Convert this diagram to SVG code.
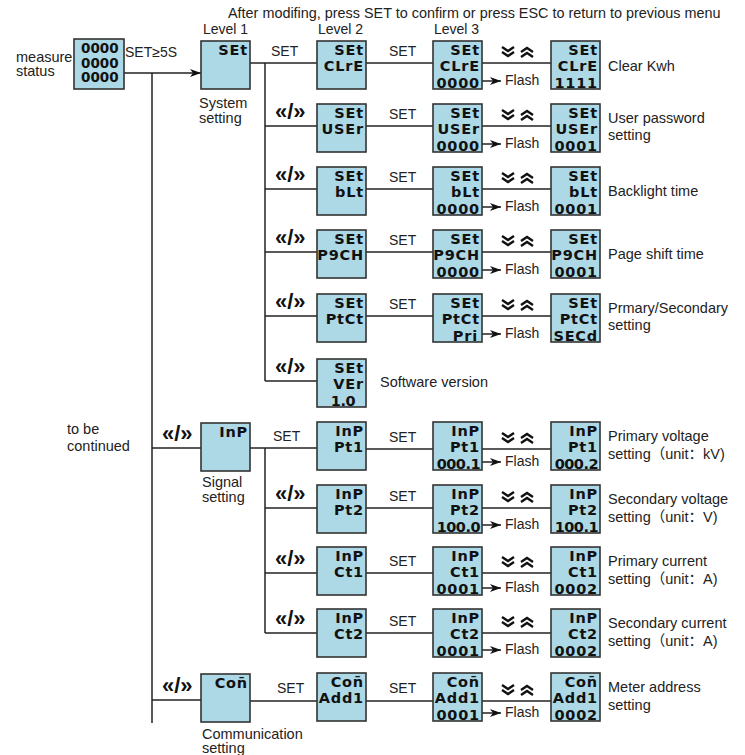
<svg xmlns="http://www.w3.org/2000/svg" width="745" height="755" viewBox="0 0 745 755">
<style>
text{font-family:"Liberation Sans","Noto Sans CJK SC",sans-serif;fill:#222}
.t{font-size:14px}
.top{font-size:14.4px}
.d{font-size:14.5px}
.nav{font-size:22px;font-weight:bold;fill:#111}
.box{fill:#add8e6;stroke:#333;stroke-width:1.6}
.lcd{font-family:"DejaVu Sans",sans-serif;font-weight:bold;font-size:14.5px;letter-spacing:0.8px;text-anchor:end;fill:#111}
.dot{letter-spacing:-0.5px}
.m{font-family:"DejaVu Sans",sans-serif;font-weight:bold;font-size:13.5px;fill:#111}
.ln{stroke:#222;stroke-width:1.5;fill:none}
.chev{stroke:#111;stroke-width:2.4;fill:none;stroke-linejoin:miter}
</style>
<defs>
<marker id="ah" markerUnits="userSpaceOnUse" markerWidth="12" markerHeight="8" refX="11" refY="4" orient="auto">
<path d="M0,0 L11,4 L0,8 L3,4 z" fill="#111"/>
</marker>
<g id="ud">
<path class="chev" d="M-25,-5 L-19,-1 L-13,-5 M-25,0 L-19,4 L-13,0"/>
<path class="chev" d="M-6,5 L0,1 L6,5 M-6,0 L0,-4 L6,0"/>
</g>
</defs>

<text class="top" x="228" y="18">After modifing, press SET to confirm or press ESC to return to previous menu</text>
<text class="t" x="203" y="34">Level 1</text>
<text class="t" x="318" y="34">Level 2</text>
<text class="t" x="434" y="34">Level 3</text>

<g id="connectors">
<line class="ln" x1="124" y1="73" x2="201" y2="73" marker-end="url(#ah)"/>
<line class="ln" x1="152" y1="73" x2="152" y2="723"/>
<line class="ln" x1="250" y1="63" x2="317" y2="63"/>
<line class="ln" x1="265" y1="63" x2="265" y2="381"/>
<line class="ln" x1="265" y1="126" x2="317" y2="126"/>
<line class="ln" x1="265" y1="189" x2="317" y2="189"/>
<line class="ln" x1="265" y1="252" x2="317" y2="252"/>
<line class="ln" x1="265" y1="316" x2="317" y2="316"/>
<line class="ln" x1="265" y1="381" x2="317" y2="381"/>
<line class="ln" x1="366" y1="63" x2="551" y2="63"/>
<line class="ln" x1="366" y1="126" x2="551" y2="126"/>
<line class="ln" x1="366" y1="189" x2="551" y2="189"/>
<line class="ln" x1="366" y1="252" x2="551" y2="252"/>
<line class="ln" x1="366" y1="316" x2="551" y2="316"/>
<line class="ln" x1="152" y1="448" x2="201" y2="448"/>
<line class="ln" x1="250" y1="448" x2="317" y2="448"/>
<line class="ln" x1="265" y1="448" x2="265" y2="633"/>
<line class="ln" x1="265" y1="508" x2="317" y2="508"/>
<line class="ln" x1="265" y1="573" x2="317" y2="573"/>
<line class="ln" x1="265" y1="633" x2="317" y2="633"/>
<line class="ln" x1="366" y1="449" x2="551" y2="449"/>
<line class="ln" x1="366" y1="508" x2="551" y2="508"/>
<line class="ln" x1="366" y1="573" x2="551" y2="573"/>
<line class="ln" x1="366" y1="633" x2="551" y2="633"/>
<line class="ln" x1="152" y1="700" x2="201" y2="700"/>
<line class="ln" x1="250" y1="701" x2="551" y2="701"/>
<line class="ln" x1="481" y1="81" x2="501" y2="81" marker-end="url(#ah)"/>
<line class="ln" x1="481" y1="144" x2="501" y2="144" marker-end="url(#ah)"/>
<line class="ln" x1="481" y1="207" x2="501" y2="207" marker-end="url(#ah)"/>
<line class="ln" x1="481" y1="270" x2="501" y2="270" marker-end="url(#ah)"/>
<line class="ln" x1="481" y1="334" x2="501" y2="334" marker-end="url(#ah)"/>
<line class="ln" x1="481" y1="462" x2="501" y2="462" marker-end="url(#ah)"/>
<line class="ln" x1="481" y1="525" x2="501" y2="525" marker-end="url(#ah)"/>
<line class="ln" x1="481" y1="588" x2="501" y2="588" marker-end="url(#ah)"/>
<line class="ln" x1="481" y1="650" x2="501" y2="650" marker-end="url(#ah)"/>
<line class="ln" x1="481" y1="713" x2="501" y2="713" marker-end="url(#ah)"/>
</g>

<g id="labels">
<text class="t" x="125" y="57">SET≥5S</text>
<text class="t" x="271" y="56">SET</text>
<text class="t" x="389" y="56">SET</text>
<text class="nav" x="275" y="119">«/»</text><text class="t" x="389" y="119">SET</text>
<text class="nav" x="275" y="182">«/»</text><text class="t" x="389" y="182">SET</text>
<text class="nav" x="275" y="245">«/»</text><text class="t" x="389" y="245">SET</text>
<text class="nav" x="275" y="309">«/»</text><text class="t" x="389" y="309">SET</text>
<text class="nav" x="275" y="374">«/»</text>
<text class="nav" x="162" y="441">«/»</text><text class="t" x="273" y="441">SET</text>
<text class="t" x="389" y="442">SET</text>
<text class="nav" x="275" y="501">«/»</text><text class="t" x="389" y="501">SET</text>
<text class="nav" x="275" y="566">«/»</text><text class="t" x="389" y="566">SET</text>
<text class="nav" x="275" y="626">«/»</text><text class="t" x="389" y="626">SET</text>
<text class="nav" x="162" y="693">«/»</text><text class="t" x="277" y="693">SET</text>
<text class="t" x="389" y="693">SET</text>
<use href="#ud" x="527" y="52"/>
<use href="#ud" x="527" y="115"/>
<use href="#ud" x="527" y="178"/>
<use href="#ud" x="527" y="241"/>
<use href="#ud" x="527" y="305"/>
<use href="#ud" x="527" y="438"/>
<use href="#ud" x="527" y="497"/>
<use href="#ud" x="527" y="562"/>
<use href="#ud" x="527" y="622"/>
<use href="#ud" x="527" y="690"/>
<text class="t" x="505" y="85">Flash</text>
<text class="t" x="505" y="148">Flash</text>
<text class="t" x="505" y="211">Flash</text>
<text class="t" x="505" y="274">Flash</text>
<text class="t" x="505" y="338">Flash</text>
<text class="t" x="505" y="466">Flash</text>
<text class="t" x="505" y="529">Flash</text>
<text class="t" x="505" y="592">Flash</text>
<text class="t" x="505" y="654">Flash</text>
<text class="t" x="505" y="717">Flash</text>
<text class="d" x="67" y="434">to be</text>
<text class="d" x="67" y="451">continued</text>
</g>

<g id="measure">
<text class="d"><tspan x="16" y="62">measure</tspan><tspan x="16" y="76">status</tspan></text>
<rect class="box" x="74" y="39" width="50" height="50"/>
<text class="m"><tspan x="81" y="53">0000</tspan><tspan x="81" y="67.5">0000</tspan><tspan x="81" y="82">0000</tspan></text>
</g>

<g id="sys-l1">
<rect class="box" x="201" y="41" width="49" height="48"/>
<text class="lcd" x="248" y="54.5">SEt</text>
<text class="d"><tspan x="199" y="108">System</tspan><tspan x="199" y="123">setting</tspan></text>
</g>

<g id="clre-l2"><rect class="box" x="317" y="41" width="49" height="48"/><text class="lcd"><tspan x="364" y="54.5">SEt</tspan><tspan x="364" y="71">CLrE</tspan></text></g>
<g id="clre-l3"><rect class="box" x="433" y="41" width="49" height="48"/><text class="lcd"><tspan x="480" y="54.5">SEt</tspan><tspan x="480" y="71">CLrE</tspan><tspan x="480" y="87.5">0000</tspan></text></g>
<g id="clre-r"><rect class="box" x="551" y="41" width="49" height="48"/><text class="lcd"><tspan x="598" y="54.5">SEt</tspan><tspan x="598" y="71">CLrE</tspan><tspan x="598" y="87.5">1111</tspan></text><text class="d" x="608" y="71">Clear Kwh</text></g>

<g id="user-l2"><rect class="box" x="317" y="104" width="49" height="48"/><text class="lcd"><tspan x="364" y="117.5">SEt</tspan><tspan x="364" y="134">USEr</tspan></text></g>
<g id="user-l3"><rect class="box" x="433" y="104" width="49" height="48"/><text class="lcd"><tspan x="480" y="117.5">SEt</tspan><tspan x="480" y="134">USEr</tspan><tspan x="480" y="150.5">0000</tspan></text></g>
<g id="user-r"><rect class="box" x="551" y="104" width="49" height="48"/><text class="lcd"><tspan x="598" y="117.5">SEt</tspan><tspan x="598" y="134">USEr</tspan><tspan x="598" y="150.5">0001</tspan></text><text class="d"><tspan x="608" y="123">User password</tspan><tspan x="608" y="140">setting</tspan></text></g>

<g id="blt-l2"><rect class="box" x="317" y="167" width="49" height="48"/><text class="lcd"><tspan x="364" y="180.5">SEt</tspan><tspan x="364" y="197">bLt</tspan></text></g>
<g id="blt-l3"><rect class="box" x="433" y="167" width="49" height="48"/><text class="lcd"><tspan x="480" y="180.5">SEt</tspan><tspan x="480" y="197">bLt</tspan><tspan x="480" y="213.5">0000</tspan></text></g>
<g id="blt-r"><rect class="box" x="551" y="167" width="49" height="48"/><text class="lcd"><tspan x="598" y="180.5">SEt</tspan><tspan x="598" y="197">bLt</tspan><tspan x="598" y="213.5">0001</tspan></text><text class="d" x="608" y="196">Backlight time</text></g>

<g id="pgch-l2"><rect class="box" x="317" y="230" width="49" height="48"/><text class="lcd"><tspan x="364" y="243.5">SEt</tspan><tspan x="364" y="260">P9CH</tspan></text></g>
<g id="pgch-l3"><rect class="box" x="433" y="230" width="49" height="48"/><text class="lcd"><tspan x="480" y="243.5">SEt</tspan><tspan x="480" y="260">P9CH</tspan><tspan x="480" y="276.5">0000</tspan></text></g>
<g id="pgch-r"><rect class="box" x="551" y="230" width="49" height="48"/><text class="lcd"><tspan x="598" y="243.5">SEt</tspan><tspan x="598" y="260">P9CH</tspan><tspan x="598" y="276.5">0001</tspan></text><text class="d" x="608" y="259">Page shift time</text></g>

<g id="ptct-l2"><rect class="box" x="317" y="294" width="49" height="48"/><text class="lcd"><tspan x="364" y="307.5">SEt</tspan><tspan x="364" y="324">PtCt</tspan></text></g>
<g id="ptct-l3"><rect class="box" x="433" y="294" width="49" height="48"/><text class="lcd"><tspan x="480" y="307.5">SEt</tspan><tspan x="480" y="324">PtCt</tspan><tspan x="478" y="340.5">Pri</tspan></text></g>
<g id="ptct-r"><rect class="box" x="551" y="294" width="49" height="48"/><text class="lcd"><tspan x="598" y="307.5">SEt</tspan><tspan x="598" y="324">PtCt</tspan><tspan x="598" y="340.5">SECd</tspan></text><text class="d"><tspan x="608" y="313">Prmary/Secondary</tspan><tspan x="608" y="330">setting</tspan></text></g>

<g id="ver-l2"><rect class="box" x="317" y="359" width="49" height="48"/><text class="lcd"><tspan x="364" y="372.5">SEt</tspan><tspan x="364" y="389">VEr</tspan><tspan class="dot" x="355" y="405.5">1.0</tspan></text><text class="d" x="380" y="387">Software version</text></g>

<g id="sig-l1">
<rect class="box" x="201" y="423" width="49" height="48"/>
<text class="lcd" x="248" y="437">InP</text>
<text class="d"><tspan x="202" y="487">Signal</tspan><tspan x="202" y="502">setting</tspan></text>
</g>

<g id="pt1-l2"><rect class="box" x="317" y="422" width="49" height="48"/><text class="lcd"><tspan x="364" y="436">InP</tspan><tspan x="364" y="452">Pt1</tspan></text></g>
<g id="pt1-l3"><rect class="box" x="433" y="422" width="49" height="48"/><text class="lcd"><tspan x="480" y="436">InP</tspan><tspan x="480" y="452">Pt1</tspan><tspan class="dot" x="480" y="468.5">000.1</tspan></text></g>
<g id="pt1-r"><rect class="box" x="551" y="422" width="49" height="48"/><text class="lcd"><tspan x="598" y="436">InP</tspan><tspan x="598" y="452">Pt1</tspan><tspan class="dot" x="598" y="468.5">000.2</tspan></text><text class="d"><tspan x="608" y="441">Primary voltage</tspan><tspan x="608" y="459">setting（unit：kV)</tspan></text></g>

<g id="pt2-l2"><rect class="box" x="317" y="485" width="49" height="48"/><text class="lcd"><tspan x="364" y="499">InP</tspan><tspan x="364" y="515">Pt2</tspan></text></g>
<g id="pt2-l3"><rect class="box" x="433" y="485" width="49" height="48"/><text class="lcd"><tspan x="480" y="499">InP</tspan><tspan x="480" y="515">Pt2</tspan><tspan class="dot" x="480" y="531.5">100.0</tspan></text></g>
<g id="pt2-r"><rect class="box" x="551" y="485" width="49" height="48"/><text class="lcd"><tspan x="598" y="499">InP</tspan><tspan x="598" y="515">Pt2</tspan><tspan class="dot" x="598" y="531.5">100.1</tspan></text><text class="d"><tspan x="608" y="504">Secondary voltage</tspan><tspan x="608" y="522">setting（unit：V)</tspan></text></g>

<g id="ct1-l2"><rect class="box" x="317" y="547" width="49" height="48"/><text class="lcd"><tspan x="364" y="561">InP</tspan><tspan x="364" y="577">Ct1</tspan></text></g>
<g id="ct1-l3"><rect class="box" x="433" y="547" width="49" height="48"/><text class="lcd"><tspan x="480" y="561">InP</tspan><tspan x="480" y="577">Ct1</tspan><tspan x="480" y="593.5">0001</tspan></text></g>
<g id="ct1-r"><rect class="box" x="551" y="547" width="49" height="48"/><text class="lcd"><tspan x="598" y="561">InP</tspan><tspan x="598" y="577">Ct1</tspan><tspan x="598" y="593.5">0002</tspan></text><text class="d"><tspan x="608" y="566">Primary current</tspan><tspan x="608" y="584">setting（unit：A)</tspan></text></g>

<g id="ct2-l2"><rect class="box" x="317" y="609" width="49" height="48"/><text class="lcd"><tspan x="364" y="623">InP</tspan><tspan x="364" y="639">Ct2</tspan></text></g>
<g id="ct2-l3"><rect class="box" x="433" y="609" width="49" height="48"/><text class="lcd"><tspan x="480" y="623">InP</tspan><tspan x="480" y="639">Ct2</tspan><tspan x="480" y="655.5">0001</tspan></text></g>
<g id="ct2-r"><rect class="box" x="551" y="609" width="49" height="48"/><text class="lcd"><tspan x="598" y="623">InP</tspan><tspan x="598" y="639">Ct2</tspan><tspan x="598" y="655.5">0002</tspan></text><text class="d"><tspan x="608" y="628">Secondary current</tspan><tspan x="608" y="646">setting（unit：A)</tspan></text></g>

<g id="com-l1">
<rect class="box" x="201" y="674" width="49" height="48"/>
<text class="lcd" x="248" y="688">Con&#x304;</text>
<text class="d"><tspan x="202" y="739">Communication</tspan><tspan x="202" y="753">setting</tspan></text>
</g>
<g id="add-l2"><rect class="box" x="317" y="673" width="49" height="48"/><text class="lcd"><tspan x="364" y="687">Con&#x304;</tspan><tspan x="364" y="703">Add1</tspan></text></g>
<g id="add-l3"><rect class="box" x="433" y="673" width="49" height="48"/><text class="lcd"><tspan x="480" y="687">Con&#x304;</tspan><tspan x="480" y="703">Add1</tspan><tspan x="480" y="719.5">0001</tspan></text></g>
<g id="add-r"><rect class="box" x="551" y="673" width="49" height="48"/><text class="lcd"><tspan x="598" y="687">Con&#x304;</tspan><tspan x="598" y="703">Add1</tspan><tspan x="598" y="719.5">0002</tspan></text><text class="d"><tspan x="608" y="692">Meter address</tspan><tspan x="608" y="710">setting</tspan></text></g>
</svg>
